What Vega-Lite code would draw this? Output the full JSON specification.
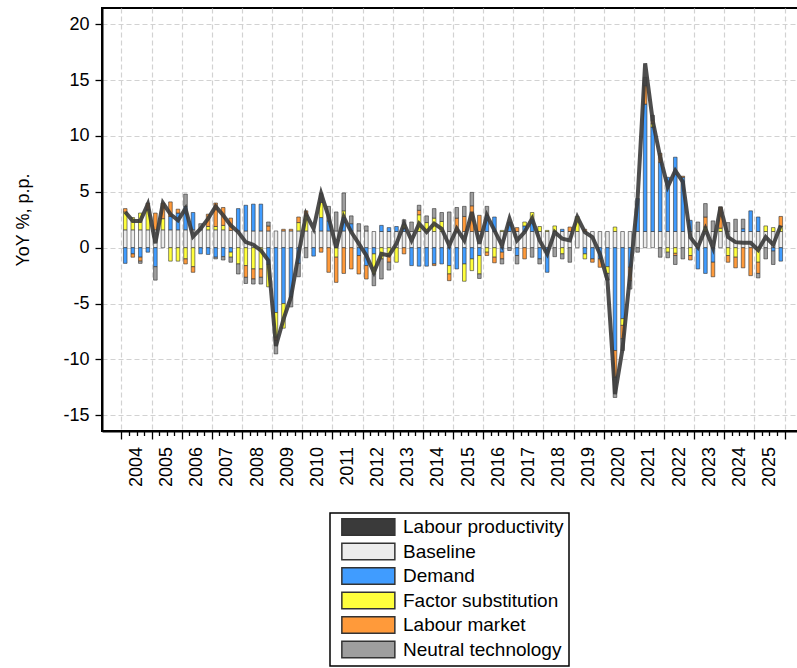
{
  "$schema": "https://vega.github.io/schema/vega-lite/v6.json",
  "autosize": "none",
  "padding": {"left": 102, "top": 8, "right": 0, "bottom": 237},
  "width": 702,
  "height": 423,
  "background": "white",
  "config": {
    "font": "Liberation Sans",
    "view": {"stroke": "black", "strokeWidth": 2},
    "axis": {
      "labelFont": "Liberation Sans", "titleFont": "Liberation Sans",
      "labelFontSize": 18, "titleFontSize": 18, "labelColor": "black", "titleColor": "black",
      "titleFontWeight": "normal", "domainColor": "black", "domainWidth": 2,
      "tickColor": "black", "tickWidth": 1.3,
      "gridColor": "#d2d2d2", "gridDash": [5, 3], "gridWidth": 1.2
    },
    "legend": {
      "labelFont": "Liberation Sans", "labelFontSize": 19, "labelColor": "black", "labelLimit": 400,
      "strokeColor": "black", "strokeWidth": 1.5, "padding": 4.5, "rowPadding": 1.5,
      "symbolType": "M-1,-1H5.5V1H-1Z", "symbolSize": 266, "labelOffset": 43.5, "symbolOffset": 6
    }
  },
  "data": {"values": [
    {"t":2004.125,"P":3.2,"Baseline":1.6,"Demand":-1.4,"Factor substitution":1.6,"Labour market":0.3,"Neutral technology":0},
    {"t":2004.375,"P":2.4,"Baseline":1.6,"Demand":-0.55,"Factor substitution":1.1,"Labour market":-0.3,"Neutral technology":0},
    {"t":2004.625,"P":2.4,"Baseline":1.6,"Demand":-0.85,"Factor substitution":1.5,"Labour market":-0.35,"Neutral technology":-0.2},
    {"t":2004.875,"P":3.9,"Baseline":1.6,"Demand":-0.4,"Factor substitution":1.8,"Labour market":0.6,"Neutral technology":0},
    {"t":2005.125,"P":0.4,"Baseline":1.6,"Demand":-1.7,"Factor substitution":0,"Labour market":1.5,"Neutral technology":-1.2},
    {"t":2005.375,"P":4.0,"Baseline":1.6,"Demand":0,"Factor substitution":1.0,"Labour market":1.4,"Neutral technology":0},
    {"t":2005.625,"P":3.0,"Baseline":1.6,"Demand":1.2,"Factor substitution":-1.2,"Labour market":1.3,"Neutral technology":0},
    {"t":2005.875,"P":2.45,"Baseline":1.6,"Demand":1.5,"Factor substitution":-1.2,"Labour market":0.35,"Neutral technology":0},
    {"t":2006.125,"P":3.5,"Baseline":1.6,"Demand":2.1,"Factor substitution":-1.0,"Labour market":-0.45,"Neutral technology":1.1},
    {"t":2006.375,"P":1.0,"Baseline":1.6,"Demand":1.55,"Factor substitution":-1.7,"Labour market":-0.5,"Neutral technology":0},
    {"t":2006.625,"P":1.7,"Baseline":1.6,"Demand":-0.55,"Factor substitution":0,"Labour market":0,"Neutral technology":0.55},
    {"t":2006.875,"P":2.6,"Baseline":1.6,"Demand":-0.6,"Factor substitution":0.3,"Labour market":1.1,"Neutral technology":0},
    {"t":2007.125,"P":3.7,"Baseline":1.6,"Demand":-0.85,"Factor substitution":0.3,"Labour market":2.1,"Neutral technology":-0.15},
    {"t":2007.375,"P":2.9,"Baseline":1.6,"Demand":-0.8,"Factor substitution":0.4,"Labour market":1.6,"Neutral technology":-0.3},
    {"t":2007.625,"P":2.0,"Baseline":1.55,"Demand":-0.4,"Factor substitution":-0.45,"Labour market":1.1,"Neutral technology":-0.45},
    {"t":2007.875,"P":1.4,"Baseline":1.5,"Demand":2.0,"Factor substitution":-1.45,"Labour market":0,"Neutral technology":-0.9},
    {"t":2008.125,"P":0.5,"Baseline":1.5,"Demand":2.3,"Factor substitution":-1.6,"Labour market":-1.05,"Neutral technology":-0.55},
    {"t":2008.375,"P":0.27,"Baseline":1.5,"Demand":2.4,"Factor substitution":-1.9,"Labour market":-0.9,"Neutral technology":-0.45},
    {"t":2008.625,"P":-0.24,"Baseline":1.5,"Demand":2.4,"Factor substitution":-1.9,"Labour market":-0.75,"Neutral technology":-0.6},
    {"t":2008.875,"P":-1.15,"Baseline":1.5,"Demand":-1.5,"Factor substitution":-2.0,"Labour market":0.45,"Neutral technology":0.35},
    {"t":2009.125,"P":-8.8,"Baseline":1.5,"Demand":-5.8,"Factor substitution":-2.2,"Labour market":-0.3,"Neutral technology":-1.2},
    {"t":2009.375,"P":-6.4,"Baseline":1.5,"Demand":-5.0,"Factor substitution":-2.2,"Labour market":0.15,"Neutral technology":0},
    {"t":2009.625,"P":-4.4,"Baseline":1.5,"Demand":-4.4,"Factor substitution":0,"Labour market":0.15,"Neutral technology":-0.9},
    {"t":2009.875,"P":-0.6,"Baseline":1.5,"Demand":-1.4,"Factor substitution":0.75,"Labour market":0.5,"Neutral technology":-1.2},
    {"t":2010.125,"P":3.0,"Baseline":1.5,"Demand":0,"Factor substitution":1.35,"Labour market":0.45,"Neutral technology":-0.9},
    {"t":2010.375,"P":1.7,"Baseline":1.5,"Demand":-0.75,"Factor substitution":0,"Labour market":0,"Neutral technology":0},
    {"t":2010.625,"P":4.85,"Baseline":1.5,"Demand":1.2,"Factor substitution":1.35,"Labour market":-0.4,"Neutral technology":0.8},
    {"t":2010.875,"P":2.75,"Baseline":1.5,"Demand":0.9,"Factor substitution":0,"Labour market":-2.2,"Neutral technology":1.3},
    {"t":2011.125,"P":0.0,"Baseline":1.5,"Demand":0,"Factor substitution":-0.85,"Labour market":-2.25,"Neutral technology":1.7},
    {"t":2011.375,"P":2.75,"Baseline":1.5,"Demand":1.2,"Factor substitution":0.6,"Labour market":-2.3,"Neutral technology":1.6},
    {"t":2011.625,"P":1.4,"Baseline":1.5,"Demand":0.65,"Factor substitution":0,"Labour market":-1.9,"Neutral technology":0.7},
    {"t":2011.875,"P":0.36,"Baseline":1.5,"Demand":-0.7,"Factor substitution":0,"Labour market":-1.65,"Neutral technology":0.65},
    {"t":2012.125,"P":-0.7,"Baseline":1.5,"Demand":-1.6,"Factor substitution":0,"Labour market":-1.2,"Neutral technology":0.45},
    {"t":2012.375,"P":-2.2,"Baseline":1.45,"Demand":-0.55,"Factor substitution":-1.8,"Labour market":0,"Neutral technology":-1.05},
    {"t":2012.625,"P":-0.55,"Baseline":1.45,"Demand":0.55,"Factor substitution":-1.0,"Labour market":0,"Neutral technology":-1.8},
    {"t":2012.875,"P":-0.7,"Baseline":1.45,"Demand":0.35,"Factor substitution":-0.7,"Labour market":-0.6,"Neutral technology":-0.7},
    {"t":2013.125,"P":0.36,"Baseline":1.45,"Demand":0.45,"Factor substitution":-1.3,"Labour market":0,"Neutral technology":0},
    {"t":2013.375,"P":2.15,"Baseline":1.45,"Demand":0.3,"Factor substitution":0.3,"Labour market":-0.55,"Neutral technology":0.45},
    {"t":2013.625,"P":0.65,"Baseline":1.45,"Demand":-1.6,"Factor substitution":0,"Labour market":0,"Neutral technology":0.85},
    {"t":2013.875,"P":2.15,"Baseline":1.45,"Demand":-1.65,"Factor substitution":1.5,"Labour market":0.4,"Neutral technology":0.45},
    {"t":2014.125,"P":1.4,"Baseline":1.45,"Demand":-1.65,"Factor substitution":0.8,"Labour market":0,"Neutral technology":0.6},
    {"t":2014.375,"P":2.15,"Baseline":1.45,"Demand":-1.45,"Factor substitution":1.2,"Labour market":-0.15,"Neutral technology":0.85},
    {"t":2014.625,"P":1.7,"Baseline":1.45,"Demand":-1.45,"Factor substitution":0.9,"Labour market":0,"Neutral technology":0.8},
    {"t":2014.875,"P":0.2,"Baseline":1.45,"Demand":-1.6,"Factor substitution":-0.75,"Labour market":-0.6,"Neutral technology":1.75},
    {"t":2015.125,"P":1.7,"Baseline":1.45,"Demand":-1.9,"Factor substitution":0,"Labour market":1.2,"Neutral technology":0.95},
    {"t":2015.375,"P":0.65,"Baseline":1.45,"Demand":-1.45,"Factor substitution":-1.55,"Labour market":1.35,"Neutral technology":0.9},
    {"t":2015.625,"P":3.2,"Baseline":1.45,"Demand":-1.0,"Factor substitution":-1.05,"Labour market":2.3,"Neutral technology":1.2},
    {"t":2015.875,"P":0.36,"Baseline":1.45,"Demand":-0.7,"Factor substitution":-1.65,"Labour market":1.45,"Neutral technology":-0.4},
    {"t":2016.125,"P":2.9,"Baseline":1.45,"Demand":1.45,"Factor substitution":-0.4,"Labour market":-0.3,"Neutral technology":0.8},
    {"t":2016.375,"P":1.55,"Baseline":1.45,"Demand":1.3,"Factor substitution":-0.85,"Labour market":-0.5,"Neutral technology":0},
    {"t":2016.625,"P":0.2,"Baseline":1.45,"Demand":-0.4,"Factor substitution":0.1,"Labour market":-0.6,"Neutral technology":-0.45},
    {"t":2016.875,"P":2.6,"Baseline":1.45,"Demand":0.85,"Factor substitution":0,"Labour market":0,"Neutral technology":-0.25},
    {"t":2017.125,"P":0.65,"Baseline":1.45,"Demand":-0.7,"Factor substitution":0,"Labour market":0.35,"Neutral technology":-0.75},
    {"t":2017.375,"P":1.4,"Baseline":1.45,"Demand":0.5,"Factor substitution":0.35,"Labour market":-1.0,"Neutral technology":0},
    {"t":2017.625,"P":2.6,"Baseline":1.45,"Demand":1.1,"Factor substitution":0.6,"Labour market":0,"Neutral technology":-0.85},
    {"t":2017.875,"P":0.65,"Baseline":1.45,"Demand":-1.0,"Factor substitution":0.45,"Labour market":0,"Neutral technology":-0.45},
    {"t":2018.125,"P":-0.55,"Baseline":1.45,"Demand":-2.2,"Factor substitution":0.1,"Labour market":0,"Neutral technology":0},
    {"t":2018.375,"P":1.4,"Baseline":1.45,"Demand":0,"Factor substitution":0.5,"Labour market":0,"Neutral technology":-0.8},
    {"t":2018.625,"P":0.8,"Baseline":1.45,"Demand":0.2,"Factor substitution":-0.55,"Labour market":0,"Neutral technology":-0.45},
    {"t":2018.875,"P":0.65,"Baseline":1.45,"Demand":0,"Factor substitution":0,"Labour market":0.4,"Neutral technology":-1.3},
    {"t":2019.125,"P":2.75,"Baseline":1.45,"Demand":0,"Factor substitution":1.35,"Labour market":0,"Neutral technology":0},
    {"t":2019.375,"P":1.4,"Baseline":1.45,"Demand":-0.55,"Factor substitution":-0.45,"Labour market":0.2,"Neutral technology":0},
    {"t":2019.625,"P":0.95,"Baseline":1.45,"Demand":-1.0,"Factor substitution":0,"Labour market":-0.3,"Neutral technology":0},
    {"t":2019.875,"P":-0.55,"Baseline":1.45,"Demand":-1.0,"Factor substitution":0,"Labour market":-0.75,"Neutral technology":0},
    {"t":2020.125,"P":-2.9,"Baseline":1.45,"Demand":-1.7,"Factor substitution":-0.6,"Labour market":0,"Neutral technology":-0.6},
    {"t":2020.375,"P":-13.1,"Baseline":1.45,"Demand":-9.2,"Factor substitution":0.4,"Labour market":-2.4,"Neutral technology":-1.8},
    {"t":2020.625,"P":-9.05,"Baseline":1.45,"Demand":-6.35,"Factor substitution":-0.6,"Labour market":-1.2,"Neutral technology":-1.05},
    {"t":2020.875,"P":-2.4,"Baseline":1.45,"Demand":-1.75,"Factor substitution":0,"Labour market":-1.2,"Neutral technology":-0.75},
    {"t":2021.125,"P":4.4,"Baseline":1.45,"Demand":2.95,"Factor substitution":0,"Labour market":0,"Neutral technology":-0.4},
    {"t":2021.375,"P":16.5,"Baseline":1.45,"Demand":11.4,"Factor substitution":0,"Labour market":1.65,"Neutral technology":0.75},
    {"t":2021.625,"P":11.4,"Baseline":1.45,"Demand":9.35,"Factor substitution":0.3,"Labour market":0.3,"Neutral technology":0.45},
    {"t":2021.875,"P":8.1,"Baseline":1.45,"Demand":6.2,"Factor substitution":0,"Labour market":0.8,"Neutral technology":-0.85},
    {"t":2022.125,"P":5.45,"Baseline":1.45,"Demand":4.85,"Factor substitution":-0.4,"Labour market":0,"Neutral technology":-0.5},
    {"t":2022.375,"P":6.9,"Baseline":1.45,"Demand":6.65,"Factor substitution":-0.5,"Labour market":-0.2,"Neutral technology":-0.8},
    {"t":2022.625,"P":5.9,"Baseline":1.45,"Demand":4.85,"Factor substitution":0,"Labour market":0.1,"Neutral technology":-1.0},
    {"t":2022.875,"P":0.95,"Baseline":1.45,"Demand":1.0,"Factor substitution":-0.7,"Labour market":-0.4,"Neutral technology":0},
    {"t":2023.125,"P":0.05,"Baseline":1.45,"Demand":-1.9,"Factor substitution":0,"Labour market":0,"Neutral technology":0.85},
    {"t":2023.375,"P":1.7,"Baseline":1.45,"Demand":-2.3,"Factor substitution":0.4,"Labour market":0.9,"Neutral technology":1.2},
    {"t":2023.625,"P":0.0,"Baseline":1.45,"Demand":-1.3,"Factor substitution":0,"Labour market":-1.3,"Neutral technology":0.95},
    {"t":2023.875,"P":3.65,"Baseline":1.45,"Demand":0,"Factor substitution":0.3,"Labour market":1.9,"Neutral technology":0},
    {"t":2024.125,"P":0.95,"Baseline":1.45,"Demand":0,"Factor substitution":-0.7,"Labour market":-0.6,"Neutral technology":0.8},
    {"t":2024.375,"P":0.5,"Baseline":1.45,"Demand":0,"Factor substitution":-0.85,"Labour market":-0.95,"Neutral technology":1.1},
    {"t":2024.625,"P":0.45,"Baseline":1.45,"Demand":0.25,"Factor substitution":0,"Labour market":-1.8,"Neutral technology":0.85},
    {"t":2024.875,"P":0.45,"Baseline":1.45,"Demand":1.85,"Factor substitution":0,"Labour market":-2.5,"Neutral technology":0},
    {"t":2025.125,"P":-0.2,"Baseline":1.45,"Demand":1.3,"Factor substitution":-1.3,"Labour market":-1.0,"Neutral technology":-0.4},
    {"t":2025.375,"P":0.95,"Baseline":1.45,"Demand":0,"Factor substitution":0.5,"Labour market":0,"Neutral technology":-1.0},
    {"t":2025.625,"P":0.27,"Baseline":1.45,"Demand":-0.3,"Factor substitution":0.35,"Labour market":0,"Neutral technology":-1.2},
    {"t":2025.875,"P":2.0,"Baseline":1.45,"Demand":-1.2,"Factor substitution":0.45,"Labour market":0.9,"Neutral technology":0}
  ]},
  "encoding": {
    "x": {
      "field": "t", "type": "quantitative",
      "scale": {"domain": [2003.52, 2026.48], "nice": false, "zero": false},
      "axis": {
        "title": null,
        "values": [2004,2004.25,2004.5,2004.75,2005,2005.25,2005.5,2005.75,2006,2006.25,2006.5,2006.75,2007,2007.25,2007.5,2007.75,2008,2008.25,2008.5,2008.75,2009,2009.25,2009.5,2009.75,2010,2010.25,2010.5,2010.75,2011,2011.25,2011.5,2011.75,2012,2012.25,2012.5,2012.75,2013,2013.25,2013.5,2013.75,2014,2014.25,2014.5,2014.75,2015,2015.25,2015.5,2015.75,2016,2016.25,2016.5,2016.75,2017,2017.25,2017.5,2017.75,2018,2018.25,2018.5,2018.75,2019,2019.25,2019.5,2019.75,2020,2020.25,2020.5,2020.75,2021,2021.25,2021.5,2021.75,2022,2022.25,2022.5,2022.75,2023,2023.25,2023.5,2023.75,2024,2024.25,2024.5,2024.75,2025,2025.25,2025.5,2025.75,2026],
        "labelExpr": "(datum.value*4)%4 == 2 ? '' + floor(datum.value) : ''",
        "labelAngle": -90, "labelAlign": "right", "labelBaseline": "middle",
        "labelOverlap": false, "labelFlush": false, "labelBound": false,
        "labelPadding": 11,
        "tickSize": {"condition": {"test": "(datum.value*4)%4 == 0", "value": 8}, "value": 4.5},
        "grid": true,
        "gridOpacity": {"condition": {"test": "(datum.value*4)%4 == 0", "value": 1}, "value": 0}
      }
    }
  },
  "layer": [
    {
      "transform": [
        {"fold": ["Baseline", "Demand", "Factor substitution", "Labour market", "Neutral technology"], "as": ["component", "value"]},
        {"filter": "datum.value != 0"}
      ],
      "mark": {"type": "bar", "width": 3.6, "stroke": "#333333", "strokeWidth": 0.6},
      "encoding": {
        "y": {
          "field": "value", "type": "quantitative", "stack": "zero",
          "scale": {"domain": [-16.4, 21.45], "nice": false, "zero": false},
          "axis": {"values": [-15, -10, -5, 0, 5, 10, 15, 20], "labelExpr": "'' + datum.value", "title": "YoY %, p.p.", "tickSize": 7, "labelPadding": 6, "titlePadding": 30, "grid": true}
        },
        "order": {"field": "component", "type": "ordinal", "sort": "ascending"},
        "color": {
          "field": "component", "type": "nominal",
          "scale": {
            "domain": ["Labour productivity", "Baseline", "Demand", "Factor substitution", "Labour market", "Neutral technology"],
            "range": ["#3a3a3a", "#ececec", "#409cff", "#ffff3c", "#ff9a3a", "#9e9e9e"]
          },
          "legend": {
            "title": null, "orient": "none", "legendX": 228, "legendY": 505, "direction": "vertical",
            "encode": {
              "symbols": {
                "shape": {"condition": {"test": "datum.index === 0 || datum.value === 'Labour productivity' || datum.label === 'Labour productivity'", "value": "M-1.1,-0.25H5.6V0.25H-1.1Z"}, "value": "M-1,-1H5.5V1H-1Z"},
                "stroke": {"condition": {"test": "datum.index === 0 || datum.value === 'Labour productivity' || datum.label === 'Labour productivity'", "value": "#3a3a3a"}, "value": "#555555"},
                "strokeWidth": {"condition": {"test": "datum.index === 0 || datum.value === 'Labour productivity' || datum.label === 'Labour productivity'", "value": 0}, "value": 1}
              }
            }
          }
        }
      }
    },
    {
      "mark": {"type": "line", "strokeWidth": 4, "opacity": 0.9, "color": "#3a3a3a"},
      "encoding": {
        "y": {"field": "P", "type": "quantitative"}
      }
    }
  ]
}
